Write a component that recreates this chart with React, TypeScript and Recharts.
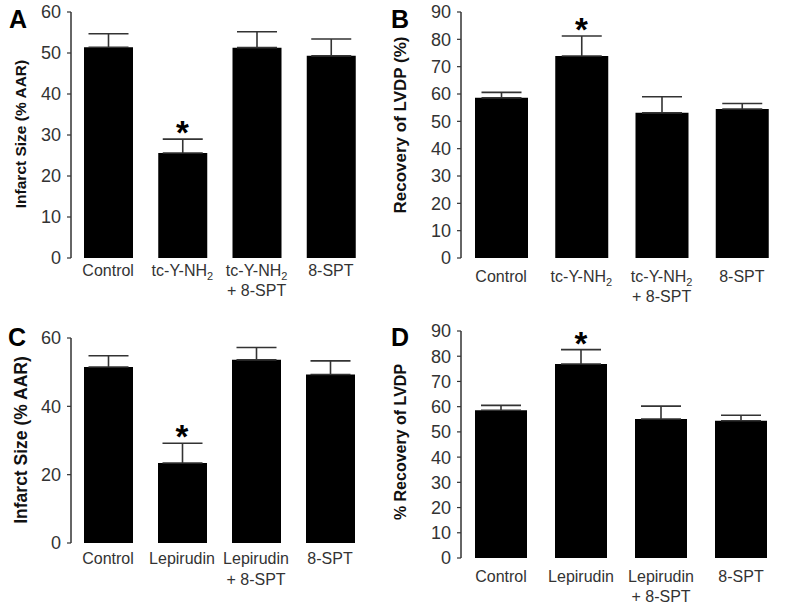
import { BarChart, Bar, XAxis, YAxis, ErrorBar, ReferenceDot } from 'recharts'

// group labels ("\n" splits into two lines, "NH2" gets a subscript 2)
const groupsTc = ['Control', 'tc-Y-NH2', 'tc-Y-NH2\n+ 8-SPT', '8-SPT']
const groupsLep = ['Control', 'Lepirudin', 'Lepirudin\n+ 8-SPT', '8-SPT']

// A: infarct size, tc-Y-NH2 series
const infarctTc = [51.4, 25.6, 51.3, 49.3]
const infarctTcErr = [3.3, 3.4, 3.9, 4.1]
// B: LVDP recovery, tc-Y-NH2 series
const lvdpTc = [58.6, 73.9, 53.1, 54.5]
const lvdpTcErr = [2.0, 7.3, 5.9, 2.0]
// C: infarct size, lepirudin series
const infarctLep = [51.5, 23.4, 53.6, 49.3]
const infarctLepErr = [3.3, 5.8, 3.6, 4.0]
// D: LVDP recovery, lepirudin series
const lvdpLep = [58.6, 76.9, 55.1, 54.4]
const lvdpLepErr = [1.9, 5.7, 5.1, 2.2]

const ticks60 = [0, 10, 20, 30, 40, 50, 60]
const ticks60Coarse = [0, 20, 40, 60]
const ticks90 = [0, 10, 20, 30, 40, 50, 60, 70, 80, 90]
const edgeTicks = [0, 1, 2, 3, 4]
const starIndex = 1

const ink = '#333'

function lineText(line: string, key: number, y: number) {
  const parts = line.split('NH2')
  if (parts.length === 1) {
    return (
      <tspan key={key} x={0} y={y}>
        {line}
      </tspan>
    )
  }
  return (
    <tspan key={key} x={0} y={y}>
      {parts[0]}NH
      <tspan fontSize={11} dy={4}>2</tspan>
      <tspan dy={-4}>{parts[1]}</tspan>
    </tspan>
  )
}

function makeTick(first: number, gap: number) {
  return (props: any) => {
    const { x, y, payload } = props
    const lines = String(payload.value).split('\n')
    return (
      <g transform={`translate(${x},${y})`}>
        <text textAnchor="middle" fill={ink} fontSize={16}>
          {lines.map((l, i) => lineText(l, i, first + i * gap))}
        </text>
      </g>
    )
  }
}

const starLabel = (props: any) => {
  const vb = props.viewBox || {}
  const cx = (vb.x ?? 0) + (vb.width ?? 0) / 2
  const cy = (vb.y ?? 0) + (vb.height ?? 0) / 2
  return (
    <text x={cx} y={cy + 5} textAnchor="middle" fontSize={33} fontWeight="bold" fill="#000">
      *
    </text>
  )
}

interface PanelProps {
  groups: string[]
  values: number[]
  errs: number[]
  yMax: number
  yTicks: number[]
  left: number
  top: number
  width: number
  height: number
  margin: { top: number; right: number; bottom: number; left: number }
  xHeight: number
  barSize: number
  labelFirst: number
  labelGap: number
}

function Panel(p: PanelProps) {
  const rows = p.groups.map((name, i) => ({ name, value: p.values[i], err: [0, p.errs[i]] }))
  return (
    <div style={{ position: 'absolute', left: p.left, top: p.top }}>
      <BarChart width={p.width} height={p.height} data={rows} margin={p.margin}>
        <XAxis
          xAxisId="edge"
          type="number"
          domain={[0, 4]}
          ticks={edgeTicks}
          height={0}
          tickSize={5}
          tickFormatter={() => ''}
          allowDataOverflow
          axisLine={{ stroke: ink, strokeWidth: 1.5 }}
          tickLine={{ stroke: ink, strokeWidth: 1.2 }}
        />
        <XAxis
          xAxisId="cat"
          dataKey="name"
          height={p.xHeight}
          axisLine={false}
          tickLine={false}
          tickSize={0}
          tickMargin={0}
          interval={0}
          tick={makeTick(p.labelFirst, p.labelGap)}
        />
        <YAxis
          domain={[0, p.yMax]}
          ticks={p.yTicks}
          interval={0}
          width={71}
          tickSize={4}
          tickMargin={6}
          stroke={ink}
          axisLine={{ stroke: ink, strokeWidth: 1.5 }}
          tickLine={{ stroke: ink, strokeWidth: 1.2 }}
          tick={{ fill: ink, fontSize: 18 }}
        />
        <Bar xAxisId="cat" dataKey="value" fill="#000" barSize={p.barSize} isAnimationActive={false}>
          <ErrorBar dataKey="err" direction="y" width={20} stroke={ink} strokeWidth={1.6} isAnimationActive={false} />
        </Bar>
        <ReferenceDot
          xAxisId="cat"
          x={p.groups[starIndex]}
          y={p.values[starIndex] + p.errs[starIndex]}
          r={2}
          fill="none"
          stroke="none"
          label={starLabel}
        />
      </BarChart>
    </div>
  )
}

const letterStyle = {
  position: 'absolute' as const,
  fontSize: 25,
  fontWeight: 'bold' as const,
  lineHeight: '25px',
  color: '#000',
}

function YTitle({ text, x, y, size }: { text: string; x: number; y: number; size: number }) {
  return (
    <div
      style={{
        position: 'absolute',
        left: x,
        top: y,
        transform: 'translate(-50%, -50%) rotate(-90deg)',
        whiteSpace: 'nowrap',
        fontSize: size,
        fontWeight: 'bold',
        color: '#111',
      }}
    >
      {text}
    </div>
  )
}

export default function App() {
  return (
    <div
      style={{
        position: 'fixed',
        left: 0,
        top: 0,
        width: 787,
        height: 612,
        background: '#fff',
        overflow: 'hidden',
        fontFamily: 'Arial, "Liberation Sans", sans-serif',
      }}
    >
      <Panel
        groups={groupsTc}
        values={infarctTc}
        errs={infarctTcErr}
        yMax={60}
        yTicks={ticks60}
        left={0}
        top={0}
        width={380}
        height={300}
        margin={{ top: 12, right: 12, bottom: 0, left: 0 }}
        xHeight={42}
        barSize={49}
        labelFirst={18}
        labelGap={20}
      />
      <Panel
        groups={groupsTc}
        values={lvdpTc}
        errs={lvdpTcErr}
        yMax={90}
        yTicks={ticks90}
        left={390}
        top={0}
        width={397}
        height={306}
        margin={{ top: 12, right: 5, bottom: 0, left: 0 }}
        xHeight={48}
        barSize={53}
        labelFirst={24}
        labelGap={20}
      />
      <Panel
        groups={groupsLep}
        values={infarctLep}
        errs={infarctLepErr}
        yMax={60}
        yTicks={ticks60Coarse}
        left={0}
        top={300}
        width={380}
        height={312}
        margin={{ top: 38, right: 13, bottom: 0, left: 0 }}
        xHeight={69}
        barSize={49}
        labelFirst={21}
        labelGap={21}
      />
      <Panel
        groups={groupsLep}
        values={lvdpLep}
        errs={lvdpLepErr}
        yMax={90}
        yTicks={ticks90}
        left={390}
        top={300}
        width={397}
        height={312}
        margin={{ top: 31, right: 6, bottom: 0, left: 0 }}
        xHeight={54}
        barSize={52}
        labelFirst={24}
        labelGap={20}
      />

      <div style={{ ...letterStyle, left: 9, top: 7 }}>A</div>
      <div style={{ ...letterStyle, left: 391, top: 7 }}>B</div>
      <div style={{ ...letterStyle, left: 8, top: 325 }}>C</div>
      <div style={{ ...letterStyle, left: 391, top: 325 }}>D</div>

      <YTitle text="Infarct Size (% AAR)" x={21} y={134} size={15.5} />
      <YTitle text="Recovery of LVDP (%)" x={401} y={125} size={17} />
      <YTitle text="Infarct Size (% AAR)" x={21} y={440} size={17.5} />
      <YTitle text="% Recovery of LVDP" x={401} y={442} size={16} />
    </div>
  )
}
